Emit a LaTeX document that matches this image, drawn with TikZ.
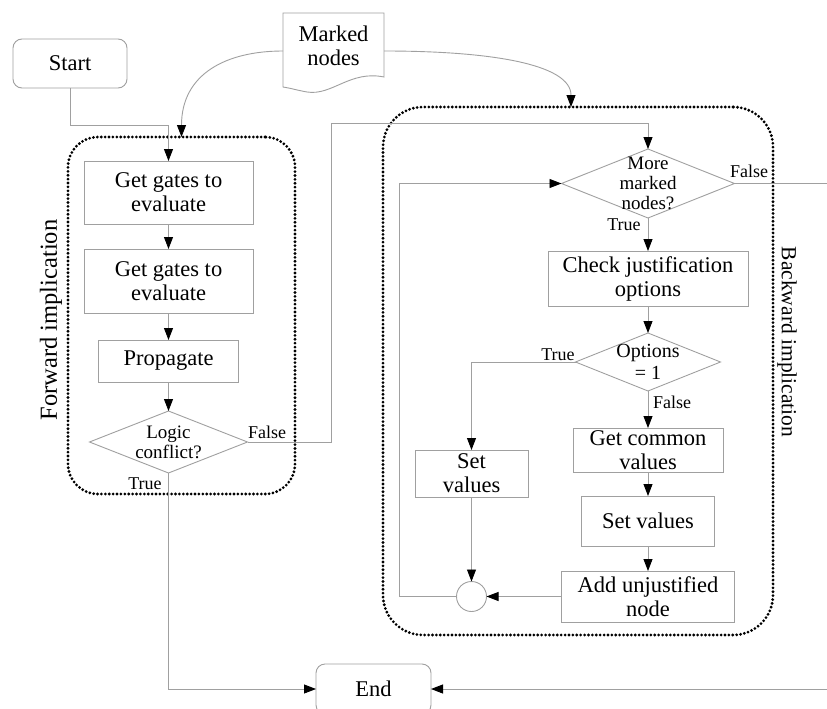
\documentclass[tikz,border=0pt]{standalone}
\usepackage{fontspec}
\setmainfont{Liberation Serif}
\usetikzlibrary{arrows.meta,shapes.geometric}

\definecolor{edgegray}{HTML}{A0A0A0}

\begin{document}
\begin{tikzpicture}[x=1pt,y=-1pt,
  every node/.style={inner sep=0pt, outer sep=0pt},
  box/.style={draw=edgegray, line width=0.9pt, rectangle, align=center,
              font=\fontsize{22.5}{24}\selectfont},
  rbox/.style={box, rounded corners=9pt},
  dia/.style={draw=edgegray, line width=0.9pt, diamond},
  dtext/.style={align=center, font=\fontsize{19}{20}\selectfont},
  lbl/.style={font=\fontsize{18}{20}\selectfont},
  flow/.style={draw=edgegray, line width=0.9pt,
               -{Triangle[length=12pt,width=9pt,color=black]}},
  plain/.style={draw=edgegray, line width=0.9pt},
  group/.style={draw=black, line width=3.1pt, line cap=round,
                dash pattern=on 0pt off 3.9pt},
]
\useasboundingbox (0,0) rectangle (827,709);
\fill[white] (0,0) rectangle (827,709);

% dotted groups
\node[group, rounded corners=30pt, minimum width=227pt, minimum height=357pt]
  (fwd) at (181.5,315.5) {};
\node[group, rounded corners=40pt, minimum width=390pt, minimum height=528pt]
  (bwd) at (578,371) {};
\node[font=\fontsize{24.5}{26}\selectfont, rotate=90] (fwdlbl) at (51,320) {Forward implication};
\node[font=\fontsize{21.5}{24}\selectfont, rotate=-90] (bwdlbl) at (787,342) {Backward implication};

% terminals and input document
\node[rbox, minimum width=114pt, minimum height=49pt] (start) at (70,63.5) {Start};
\node[align=center, font=\fontsize{22.5}{24}\selectfont,
      minimum width=101pt, minimum height=64pt] (marked) at (333.5,46) {Marked\\nodes};
\draw[edgegray, line width=0.9pt] (283,13) -- (384,13) -- (384,77)
  .. controls (350,70) and (332,96) .. (307,92)
  .. controls (296,90) and (290,88) .. (283,87) -- cycle;
\node[rbox, minimum width=115pt, minimum height=50pt] (end) at (373.5,689) {End};

% forward implication
\node[box, minimum width=169pt, minimum height=63pt] (gg1) at (168.5,192.5) {Get gates to\\evaluate};
\node[box, minimum width=169pt, minimum height=64pt] (gg2) at (168.5,281) {Get gates to\\evaluate};
\node[box, minimum width=140pt, minimum height=42pt] (prop) at (168.5,361) {Propagate};
\node[dia, minimum width=158pt, minimum height=62pt] (logic) at (168.5,442) {};
\node[dtext] (logictxt) at (logic) {Logic\\conflict?};

% backward implication
\node[dia, minimum width=173pt, minimum height=69pt] (more) at (648,183.5) {};
\node[dtext] (moretxt) at (more) {More\\marked\\nodes?};
\node[box, minimum width=200pt, minimum height=55pt] (check) at (648,278.5) {Check justification\\options};
\node[dia, minimum width=145pt, minimum height=58pt] (opt) at (648,362) {};
\node[dtext, font=\fontsize{20}{21.5}\selectfont] (opttxt) at (opt) {Options\\= 1};
\node[box, minimum width=113pt, minimum height=47pt] (setL) at (471.5,473.5) {Set\\values};
\node[box, minimum width=150pt, minimum height=44pt] (common) at (648,450) {Get common\\values};
\node[box, minimum width=133pt, minimum height=50pt] (setR) at (648,521) {Set values};
\node[box, minimum width=173pt, minimum height=51pt] (add) at (648,596.5) {Add unjustified\\node};
\node[circle, draw=edgegray, line width=0.9pt, minimum size=30pt] (join) at (471.5,596.5) {};

% free ends and bends
\coordinate (fbend) at (331,123);
\coordinate (loopc) at (399,596.5);
\coordinate (exitF) at (827,183.5);
\coordinate (exitE) at (827,689);

% connectors
\draw[flow] (start.south) -- ++(0,37) -| (gg1.north);
\draw[flow] ([yshift=-5pt]marked.west) .. controls (226,51) and (181.5,74) .. (fwd.north);
\draw[flow] ([yshift=-5pt]marked.east) .. controls (490,51) and (571,64) .. ([xshift=-7pt]bwd.north);
\draw[flow] (gg1) -- (gg2);
\draw[flow] (gg2) -- (prop);
\draw[flow] (prop) -- (logic.north);
\draw[flow] (logic.south) |- (end.west);
\draw[flow] (logic.east) -| (fbend) -| (more.north);
\draw[flow] (more.south) -- (check.north);
\draw[plain] (more.east) -- (exitF);
\draw[flow] (check.south) -- (opt.north);
\draw[flow] (opt.west) -| (setL.north);
\draw[flow] (opt.south) -- (common.north);
\draw[flow] (common) -- (setR);
\draw[flow] (setR) -- (add);
\draw[flow] (add.west) -- (join.east);
\draw[flow] (setL.south) -- (join.north);
\draw[flow] (join.west) -- (loopc) |- (more.west);
\draw[flow] (exitE) -- (end.east);

% branch labels
\node[lbl] (lfalse) at (267,432) {False};
\node[lbl] (ltrue) at (145,484) {True};
\node[lbl] (mfalse) at (749,171) {False};
\node[lbl] (mtrue) at (624,225) {True};
\node[lbl] (otrue) at (558,355) {True};
\node[lbl] (ofalse) at (672,402) {False};
\end{tikzpicture}
\end{document}
